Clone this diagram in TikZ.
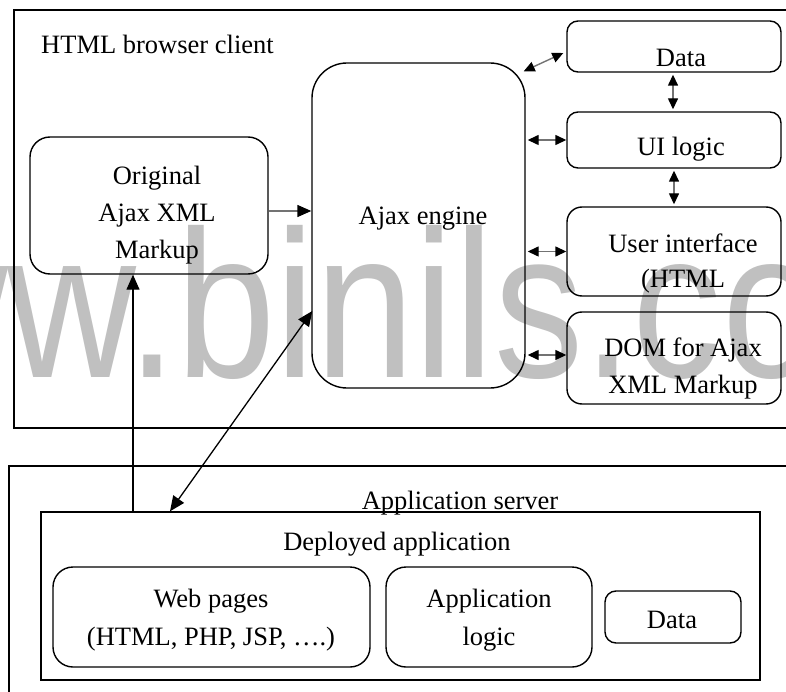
\documentclass[tikz,border=0pt]{standalone}
\usepackage{fontspec}
\usepackage{graphicx}
\setmainfont{Liberation Serif}
\newfontfamily\wmfont{Liberation Sans}
\usetikzlibrary{arrows.meta}
\definecolor{wmgray}{HTML}{C0C0C0}
\definecolor{shaft}{gray}{0.45}
% centred lines, baseline on the first line
\newcommand\mlines[1]{\begin{tabular}[t]{@{}c@{}}#1\end{tabular}}

\begin{document}
\begin{tikzpicture}[x=1pt,y=-1pt,
  box/.style={draw, line width=1.4pt, inner sep=0pt},
  rbox/.style={box, rounded corners=#1},
  txt/.style={font=\fontsize{26.5}{37}\selectfont, inner sep=0pt, anchor=base},
  bigtip/.style={-{Triangle[length=15pt,width=13pt]}},
  arr/.style={line width=1.3pt, bigtip},
  dblarr/.style={line width=1.3pt, {Triangle[length=15pt,width=13pt]}-{Triangle[length=15pt,width=13pt]}},
  feed/.style={line width=1.4pt, draw=shaft, -{Triangle[length=14pt,width=12pt,color=black]}},
  link/.style={line width=1.4pt, draw=shaft,
    {Triangle[length=11pt,width=10pt,color=black]}-{Triangle[length=11pt,width=10pt,color=black]}},
]
\path[use as bounding box] (0,0) rectangle (786,692);
\clip (0,0) rectangle (786,692);

% site mark behind everything
\node[anchor=base west, inner sep=0pt, text=wmgray,
      font=\wmfont\fontsize{210}{210}\selectfont] (mark) at (-250,377)
      {\scalebox{0.85}[1]{www.binils.com}};

% client container
\draw[line width=1.4pt] (14,10) rectangle (800,428);
\node[txt, anchor=base west] (clienttitle) at (41,54) {HTML browser client};

% client parts
\node[rbox=20, minimum width=238pt, minimum height=137pt] (orig) at (149,205.5) {};
\node[txt] (origtxt) at (157,185) {\mlines{Original\\Ajax XML\\Markup}};

\node[rbox=35, minimum width=213pt, minimum height=325pt] (engine) at (418.5,225.5) {};
\node[txt] (enginetxt) at (423,225) {Ajax engine};

\node[rbox=11, minimum width=214pt, minimum height=51pt] (data) at (674,46.5) {};
\node[txt] (datatxt) at (681,67) {Data};

\node[rbox=11, minimum width=214pt, minimum height=56pt] (uilogic) at (674,140) {};
\node[txt] (uilogictxt) at (681,156) {UI logic};

\node[rbox=15, minimum width=214pt, minimum height=89pt] (ui) at (674,251.5) {};
\node[txt, font=\fontsize{26.5}{35}\selectfont] (uitxt) at (683,253) {\mlines{User interface\\(HTML}};

\node[rbox=15, minimum width=214pt, minimum height=92pt] (dom) at (674,358) {};
\node[txt] (domtxt) at (683,356) {\mlines{DOM for Ajax\\XML Markup}};

% server container
\draw[line width=1.4pt] (9,466) rectangle (800,720);
\node[txt] (servertitle) at (460,509) {Application server};

\node[box, minimum width=719pt, minimum height=168pt] (deployed) at (400.5,596) {};
\node[txt] (deployedtxt) at (397,550) {Deployed application};

\node[rbox=20, minimum width=317pt, minimum height=100pt] (web) at (211.5,617) {};
\node[txt, font=\fontsize{26.5}{38}\selectfont] (webtxt) at (211,607) {\mlines{Web pages\\(HTML, PHP, JSP, ….)}};

\node[rbox=20, minimum width=206pt, minimum height=100pt] (applogic) at (489,617) {};
\node[txt, font=\fontsize{26.5}{38}\selectfont] (applogictxt) at (489,607) {\mlines{Application\\logic}};

\node[rbox=11, minimum width=136pt, minimum height=52pt] (sdata) at (673,617) {};
\node[txt] (sdatatxt) at (672,628) {Data};

% connectors
\draw[feed] ([yshift=-5.5pt]orig.east) -- ([yshift=-5.5pt]orig.east -| engine.west);

\draw[link] ([shift={(-2,9)}]engine.north east) -- ([shift={(-3,6.5)}]data.west);
\draw[link] ([xshift=2pt]engine.east |- uilogic.west) -- (uilogic.west);
\draw[link] ([xshift=2pt]engine.east |- ui.west) -- (ui.west);
\draw[link] ([shift={(2,-3)}]engine.east |- dom.west) -- ([yshift=3pt]dom.west);
\draw[link, shorten <=2pt, shorten >=2pt] ([xshift=-1pt]data.south) -- ([xshift=-1pt]uilogic.north);
\draw[link, shorten <=2pt, shorten >=2pt] (uilogic.south) -- (ui.north);

\draw[arr] ([xshift=-16pt]orig.south |- deployed.north) -- ([xshift=-16pt]orig.south);
\draw[dblarr] ([xshift=-230.5pt]deployed.north) -- ([shift={(1,85.5)}]engine.west);
\end{tikzpicture}
\end{document}
